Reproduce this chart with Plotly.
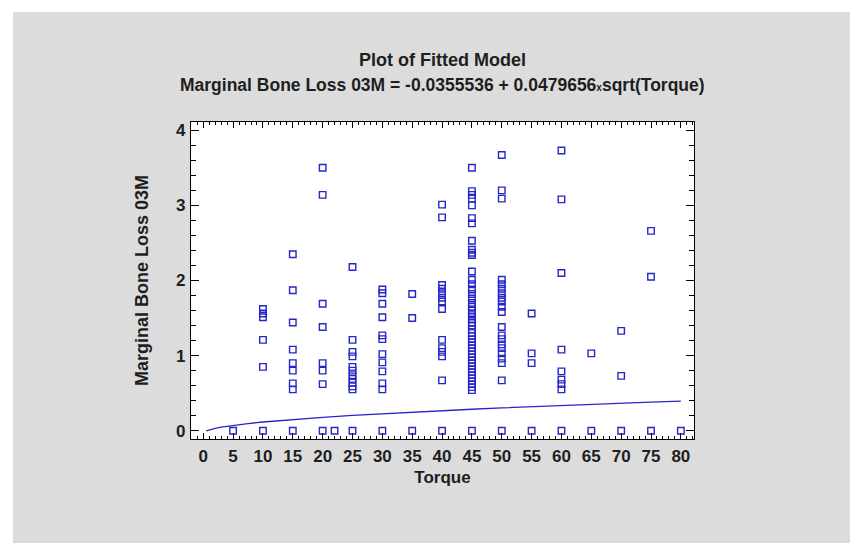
import plotly.graph_objects as go

# ---- data ----
torque_levels = [5, 10, 15, 20, 22, 25, 30, 35, 40, 45, 50, 55, 60, 65, 70, 75, 80]
bone_loss = {
    5: [0.0],
    10: [1.62, 1.56, 1.51, 1.21, 0.85, 0.0],
    15: [2.35, 1.87, 1.44, 1.08, 0.90, 0.80, 0.63, 0.55, 0.0],
    20: [3.50, 3.14, 1.69, 1.38, 0.90, 0.80, 0.62, 0.0],
    22: [0.0],
    25: [2.18, 1.21, 1.05, 0.99, 0.85, 0.80, 0.74, 0.69, 0.64, 0.59, 0.55, 0.0],
    30: [1.88, 1.83, 1.69, 1.51, 1.27, 1.22, 1.02, 0.91, 0.79, 0.63, 0.55, 0.0],
    35: [1.82, 1.50, 0.0],
    40: [3.01, 2.84, 1.94, 1.89, 1.83, 1.77, 1.72, 1.62, 1.21, 1.10, 1.05, 0.99, 0.67, 0.0],
    45: [3.50, 3.19, 3.14, 3.09, 3.00, 2.83, 2.76, 2.53, 2.41, 2.37, 2.34, 2.12, 2.01,
         1.95, 1.88, 1.82, 1.76, 1.70, 1.65, 1.60, 1.55, 1.52, 1.48, 1.44, 1.40,
         1.35, 1.30, 1.26, 1.22, 1.18, 1.14, 1.10, 1.06, 1.02, 0.98, 0.94, 0.90,
         0.86, 0.82, 0.78, 0.74, 0.70, 0.66, 0.62, 0.58, 0.54, 0.0],
    50: [3.67, 3.20, 3.09, 2.01, 1.95, 1.89, 1.83, 1.77, 1.72, 1.65, 1.58, 1.38,
         1.27, 1.22, 1.15, 1.10, 1.03, 0.96, 0.90, 0.67, 0.0],
    55: [1.56, 1.03, 0.90, 0.0],
    60: [3.73, 3.08, 2.10, 1.08, 0.79, 0.68, 0.62, 0.55, 0.0],
    65: [1.03, 0.0],
    70: [1.33, 0.73, 0.0],
    75: [2.66, 2.05, 0.0],
    80: [0.0],
}

# fitted model curve (values of -0.0355536 + 0.0479656*sqrt(Torque))
fit_x = [0.5, 1, 2, 3, 5, 7.5, 10, 12.5, 15, 20, 25, 30, 35, 40, 45, 50, 55, 60, 65, 70, 75, 80]
fit_y = [-0.0016, 0.0124, 0.0323, 0.0475, 0.0717, 0.0958, 0.1161, 0.1340, 0.1502,
         0.1789, 0.2043, 0.2272, 0.2482, 0.2678, 0.2862, 0.3036, 0.3202, 0.3360,
         0.3512, 0.3657, 0.3798, 0.3934]

title_line1 = "Plot of Fitted Model"
title_line2 = ("Marginal Bone Loss 03M = -0.0355536 + 0.0479656"
               "<span style='font-size:10px'>x</span>sqrt(Torque)")
x_title = "Torque"
y_title = "Marginal Bone Loss 03M"

xs, ys = [], []
for t in torque_levels:
    for v in bone_loss[t]:
        xs.append(t)
        ys.append(v)

BLUE = "#2626c8"
TXT = "#1e1e1e"
FONT = "Liberation Sans, Arial, sans-serif"

fig = go.Figure()
fig.add_trace(go.Scatter(
    x=xs, y=ys, mode="markers",
    marker=dict(symbol="square-open", size=6.5, color=BLUE, line=dict(width=1.4, color=BLUE)),
    showlegend=False, hoverinfo="x+y",
))
fig.add_trace(go.Scatter(
    x=fit_x, y=fit_y, mode="lines",
    line=dict(color=BLUE, width=1.3),
    showlegend=False,
))

# page body has an 8px margin, so figure coordinates are page coordinates - 8
OFF = 8
W, H = 858 - OFF, 543 - OFF
L, R, T, B = 191 - OFF, 694 - OFF, 122 - OFF, 439 - OFF

axis_common = dict(
    showline=True, linecolor="black", linewidth=1.2, mirror="allticks",
    ticks="inside", tickcolor="black", showgrid=False, zeroline=False,
    tickfont=dict(family=FONT, size=17, color=TXT, weight="bold"),
)

fig.update_xaxes(
    **axis_common,
    range=[-2.05, 82.2], tick0=0, dtick=5, ticklen=6, tickwidth=1.2,
    minor=dict(ticks="inside", dtick=1, tick0=0, ticklen=3, tickcolor="black", tickwidth=1),
    title=dict(text=x_title, standoff=6, font=dict(family=FONT, size=17, color=TXT, weight="bold")),
    ticklabelstandoff=1,
)
fig.update_yaxes(
    **axis_common,
    range=[-0.11, 4.11], tick0=0, dtick=1, ticklen=8, tickwidth=1.2,
    minor=dict(ticks="inside", dtick=0.2, tick0=0, ticklen=5, tickcolor="black", tickwidth=1),
    title=dict(text=y_title, standoff=22, font=dict(family=FONT, size=18, color=TXT, weight="bold")),
    ticklabelstandoff=1,
)

fig.update_layout(
    width=W, height=H,
    margin=dict(l=L, r=W - R, t=T, b=H - B, pad=0),
    paper_bgcolor="#dcdcdc", plot_bgcolor="white",
    font=dict(family=FONT, color=TXT),
    shapes=[
        dict(type="rect", xref="paper", yref="paper", layer="below",
             x0=(0 - 10 - L) / (R - L), x1=(W + 10 - L) / (R - L),
             y0=(B - 4) / (B - T), y1=(B + 10) / (B - T),
             fillcolor="white", line=dict(width=0)),
        dict(type="rect", xref="paper", yref="paper", layer="below",
             x0=(-10 - L) / (R - L), x1=(5 - L) / (R - L),
             y0=(B - H - 10) / (B - T), y1=(B + 10) / (B - T),
             fillcolor="white", line=dict(width=0)),
    ],
    annotations=[
        dict(text=f"<b>{title_line1}</b>", xref="paper", yref="paper",
             x=0.5, y=(B - (60 - OFF)) / (B - T), xanchor="center", yanchor="middle",
             showarrow=False, font=dict(family=FONT, size=18, color=TXT)),
        dict(text=f"<b>{title_line2}</b>", xref="paper", yref="paper",
             x=0.5, y=(B - (85 - OFF)) / (B - T), xanchor="center", yanchor="middle",
             showarrow=False, font=dict(family=FONT, size=17.5, color=TXT)),
    ],
)

fig.write_html("out.html")
